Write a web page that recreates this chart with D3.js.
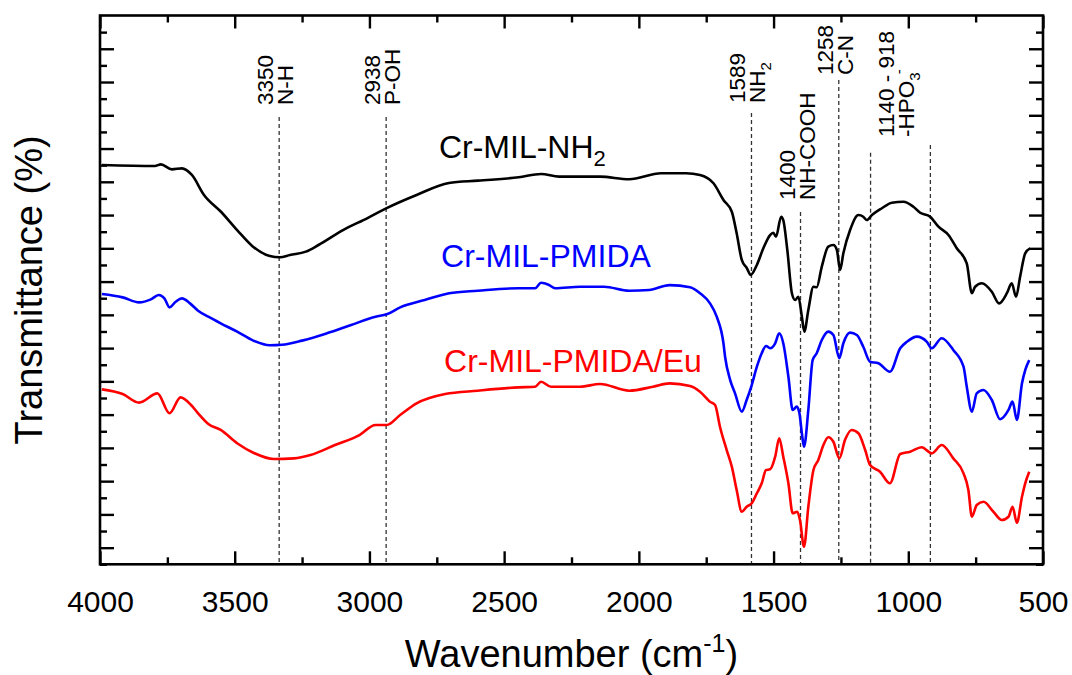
<!DOCTYPE html>
<html>
<head>
<meta charset="utf-8">
<script src="https://cdn.jsdelivr.net/npm/d3@7"></script>
<style>
body { margin: 0; background: white; }
text { font-family: "Liberation Sans", Arial, sans-serif; }
</style>
</head>
<body>
<div class="chart"></div>
<script>
var width = 1072;
var height = 675;
var plotLeft = 100, plotRight = 1043, plotTop = 15.5, plotBottom = 564.3;

// wavenumber axis
var xMajor = [4000, 3500, 3000, 2500, 2000, 1500, 1000, 500];
var xMinor = [3750, 3250, 2750, 2250, 1750, 1250, 750];
// transmittance axis (arbitrary, offset curves) - no labels
var yMajor = d3.range(0, 32, 2);
var yMinor = d3.range(-1, 32, 2);

// Cr-MIL-NH2
var nh2Wn = [3993, 3796, 3774, 3733, 3696, 3659, 3614, 3551, 3491, 3432, 3370, 3332, 3295, 3236, 3189, 3098, 3007, 2936,
    2825, 2705, 2597, 2446, 2363, 2296, 2144, 2036, 1918, 1825, 1773, 1723, 1686, 1655, 1637, 1618, 1599, 1585, 1562,
    1538, 1513, 1501, 1491, 1472, 1464, 1449, 1432, 1420, 1408, 1395, 1386, 1371, 1352, 1340, 1321, 1297, 1278, 1265,
    1253, 1241, 1216, 1185, 1167, 1154, 1135, 1098, 1061, 1018, 981, 956, 919, 888, 851, 820, 783, 764, 752, 727, 690,
    663, 634, 616, 600, 585, 566, 548];
var nh2T = [23.01, 22.95, 23.05, 22.75, 22.81, 22.41, 21.21, 20.20, 19.10, 18.10, 17.54, 17.46, 17.60, 17.80, 18.20, 19.10,
    19.82, 20.42, 21.21, 21.93, 22.07, 22.27, 22.47, 22.31, 22.31, 22.15, 22.51, 22.51, 22.41, 21.91, 20.91, 20.20, 18.90,
    17.30, 16.80, 16.40, 17.00, 18.00, 18.80, 18.94, 18.70, 19.90, 19.70, 17.90, 15.30, 14.89, 15.09, 13.89, 12.99, 14.29,
    15.69, 15.66, 16.90, 18.10, 18.20, 17.90, 16.70, 17.70, 19.10, 20.00, 19.90, 19.70, 20.00, 20.41, 20.74, 20.80, 20.50,
    20.14, 19.90, 19.30, 18.80, 18.00, 17.10, 15.30, 15.69, 15.90, 15.39, 14.69, 15.30, 15.90, 15.09, 16.29, 17.70, 18.00];

// Cr-MIL-PMIDA
var pmidaWn = [3993, 3916, 3855, 3811, 3782, 3761, 3742, 3719, 3696, 3666, 3636, 3598, 3552, 3491, 3431, 3370, 3325, 3250,
    3158, 3068, 2977, 2936, 2886, 2795, 2704, 2598, 2446, 2385, 2363, 2333, 2311, 2218, 2129, 2036, 1962, 1886, 1810, 1773,
    1736, 1711, 1686, 1680, 1661, 1643, 1618, 1600, 1581, 1562, 1544, 1528, 1513, 1494, 1479, 1464, 1445, 1429, 1414, 1404,
    1395, 1387, 1371, 1355, 1340, 1321, 1297, 1278, 1256, 1241, 1216, 1191, 1167, 1142, 1111, 1068, 1030, 1005, 968, 931,
    913, 876, 833, 795, 783, 764, 746, 721, 690, 659, 628, 613, 597, 578, 566, 551];
var pmidaT = [15.25, 15.05, 14.75, 14.93, 15.19, 14.99, 14.45, 14.79, 14.99, 14.69, 14.25, 13.89, 13.49, 12.99, 12.45, 12.17,
    12.20, 12.45, 12.89, 13.39, 13.89, 14.03, 14.45, 14.89, 15.30, 15.45, 15.60, 15.60, 15.93, 15.79, 15.60, 15.69, 15.69,
    15.45, 15.49, 15.79, 15.66, 15.30, 14.69, 13.89, 12.29, 11.48, 10.08, 9.28, 8.18, 8.88, 9.78, 10.88, 11.69, 12.13, 11.99,
    12.29, 12.89, 12.29, 10.28, 8.28, 8.48, 8.08, 6.88, 6.07, 8.28, 11.28, 11.69, 12.49, 12.99, 12.79, 11.39, 12.29, 12.93,
    12.79, 12.08, 11.18, 11.09, 10.58, 11.99, 12.38, 12.69, 12.38, 11.99, 12.59, 11.89, 10.88, 9.68, 8.18, 9.28, 9.48, 8.88,
    7.72, 8.28, 8.78, 7.68, 9.88, 10.68, 11.28];

// Cr-MIL-PMIDA/Eu
var euWn = [3993, 3916, 3855, 3787, 3742, 3701, 3662, 3636, 3598, 3552, 3491, 3431, 3355, 3280, 3219, 3128, 3037, 2977,
    2936, 2886, 2825, 2719, 2598, 2446, 2385, 2363, 2326, 2218, 2144, 2036, 1947, 1886, 1810, 1773, 1736, 1717, 1699, 1674,
    1655, 1637, 1618, 1600, 1581, 1562, 1544, 1528, 1513, 1494, 1479, 1464, 1445, 1429, 1412, 1402, 1387, 1371, 1352, 1334,
    1315, 1297, 1278, 1256, 1235, 1210, 1185, 1160, 1142, 1105, 1068, 1030, 993, 950, 913, 876, 833, 795, 777, 764, 746, 721,
    684, 653, 628, 613, 597, 578, 566, 551];
var euT = [9.52, 9.24, 8.72, 9.28, 8.08, 9.04, 8.58, 8.08, 7.44, 7.08, 6.28, 5.71, 5.33, 5.37, 5.57, 6.17, 6.77, 7.38, 7.38,
    7.98, 8.68, 9.24, 9.44, 9.64, 9.68, 9.98, 9.68, 9.68, 9.84, 9.44, 9.68, 9.88, 9.72, 9.38, 8.78, 8.58, 7.27, 5.87, 4.87,
    3.47, 2.16, 2.46, 2.67, 3.27, 3.87, 4.67, 4.71, 5.47, 6.58, 5.47, 3.87, 2.07, 2.16, 1.66, 0.06, 2.46, 4.67, 5.27, 6.17,
    6.64, 6.37, 5.37, 6.47, 7.08, 6.88, 5.87, 4.97, 4.57, 3.87, 5.63, 5.77, 6.04, 5.67, 6.17, 5.37, 4.47, 3.47, 1.86, 2.57,
    2.76, 2.16, 1.66, 1.86, 2.46, 1.50, 3.06, 3.87, 4.57];

var seriesNames = ["Cr-MIL-NH", "Cr-MIL-PMIDA", "Cr-MIL-PMIDA/Eu"];
var seriesColors = ["#000000", "#0000ff", "#ff0000"];
var nameWn = [2742, 2734, 2723];
var nameT = [23.43, 16.88, 10.56];

// band assignments: dashed line position and top, label bottom
var bandNums = ["3350", "2938", "1589", "1400", "1258", "1140 - 918"];
var bandGroups = ["N-H", "P-OH", "NH", "NH-COOH", "C-N", "-HPO"];
var bandLineWn = [3335, 2938, 1582, 1400, 1258, 1029];
var bandLabelT = [26.62, 26.62, 26.74, 20.91, 28.42, 24.70];
var dashWn = [3335, 2938, 1582, 1400, 1258, 1140, 918];
var dashTop = [25.89, 25.89, 26.14, 20.18, 28.12, 23.74, 24.22];

var x = d3.scaleLinear().domain([4000, 500]).range([plotLeft, plotRight]);
var y = d3.scaleLinear().domain([-1, 32]).range([plotBottom, plotTop]);

var svg = d3.select(".chart")
    .append("svg")
    .attr("width", width)
    .attr("height", height);

svg.append("rect")
    .attr("width", width)
    .attr("height", height)
    .attr("fill", "white");

// dashed band lines
svg.selectAll(".band")
    .data(dashWn)
    .enter().append("line")
    .attr("x1", function(d) { return x(d); })
    .attr("x2", function(d) { return x(d); })
    .attr("y1", function(d, i) { return y(dashTop[i]); })
    .attr("y2", plotBottom)
    .attr("stroke", "#333")
    .attr("stroke-width", 1.3)
    .attr("stroke-dasharray", "4,3");

// curves
var series = [
    {wn: nh2Wn, t: nh2T},
    {wn: pmidaWn, t: pmidaT},
    {wn: euWn, t: euT}
];

var line = d3.line()
    .x(function(d) { return x(d[0]); })
    .y(function(d) { return y(d[1]); })
    .curve(d3.curveMonotoneX);

series.forEach(function(s, i) {
    var pts = s.wn.map(function(w, j) { return [w, s.t[j]]; });
    svg.append("path")
        .attr("d", line(pts))
        .attr("fill", "none")
        .attr("stroke", seriesColors[i])
        .attr("stroke-width", 2.6)
        .attr("stroke-linejoin", "round");
});

// axes, ticks pointing inward
function addAxis(axis, tf, values, size, labels) {
    var g = svg.append("g")
        .attr("transform", tf)
        .call(axis.tickValues(values).tickSize(-size).tickSizeOuter(0)
            .tickPadding(26)
            .tickFormat(labels ? d3.format("d") : ""));
    g.select(".domain").remove();
    g.selectAll("line").attr("stroke", "black").attr("stroke-width", 2.4);
    g.selectAll("text").attr("font-size", 30).attr("fill", "black")
        .attr("font-family", "'Liberation Sans', Arial, sans-serif");
}
addAxis(d3.axisBottom(x), "translate(0," + plotBottom + ")", xMajor, 13, true);
addAxis(d3.axisBottom(x), "translate(0," + plotBottom + ")", xMinor, 7, false);
addAxis(d3.axisTop(x), "translate(0," + plotTop + ")", xMajor, 13, false);
addAxis(d3.axisTop(x), "translate(0," + plotTop + ")", xMinor, 7, false);
addAxis(d3.axisLeft(y), "translate(" + plotLeft + ",0)", yMajor, 14, false);
addAxis(d3.axisLeft(y), "translate(" + plotLeft + ",0)", yMinor, 7, false);
addAxis(d3.axisRight(y), "translate(" + plotRight + ",0)", yMajor, 14, false);
addAxis(d3.axisRight(y), "translate(" + plotRight + ",0)", yMinor, 7, false);

svg.append("rect")
    .attr("x", plotLeft)
    .attr("y", plotTop)
    .attr("width", plotRight - plotLeft)
    .attr("height", plotBottom - plotTop)
    .attr("fill", "none")
    .attr("stroke", "black")
    .attr("stroke-width", 2.6);

// band labels (rotated, two lines)
bandNums.forEach(function(num, i) {
    var cx = x(bandLineWn[i]) + 4;
    var g = svg.append("g")
        .attr("transform", "translate(" + cx + "," + y(bandLabelT[i]) + ") rotate(-90)");
    g.append("text").attr("y", -10).attr("font-size", 22.5).text(num);
    var t2 = g.append("text").attr("y", 10).attr("font-size", 22.5).text(bandGroups[i]);
    if (bandGroups[i] == "NH") {
        t2.append("tspan").attr("dy", 6).attr("font-size", 15).text("2");
    }
    if (bandGroups[i] == "-HPO") {
        t2.append("tspan").attr("dy", 6).attr("font-size", 15).text("3");
        t2.append("tspan").attr("dy", -16).attr("dx", -2).attr("font-size", 15).text("-");
    }
});

// series names
seriesNames.forEach(function(n, i) {
    var t = svg.append("text")
        .attr("x", x(nameWn[i]))
        .attr("y", y(nameT[i]))
        .attr("font-size", 32)
        .attr("fill", seriesColors[i])
        .text(n);
    if (i == 0) {
        t.append("tspan").attr("dy", 8).attr("font-size", 22).text("2");
    }
});

// axis titles
var xt = svg.append("text")
    .attr("x", (plotLeft + plotRight) / 2)
    .attr("y", 667)
    .attr("text-anchor", "middle")
    .attr("font-size", 38)
    .text("Wavenumber (cm");
xt.append("tspan").attr("dy", -15).attr("font-size", 25).text("-1");
xt.append("tspan").attr("dy", 15).text(")");

svg.append("text")
    .attr("transform", "translate(42," + (plotTop + plotBottom) / 2 + ") rotate(-90)")
    .attr("text-anchor", "middle")
    .attr("font-size", 38)
    .text("Transmittance (%)");
</script>
</body>
</html>
